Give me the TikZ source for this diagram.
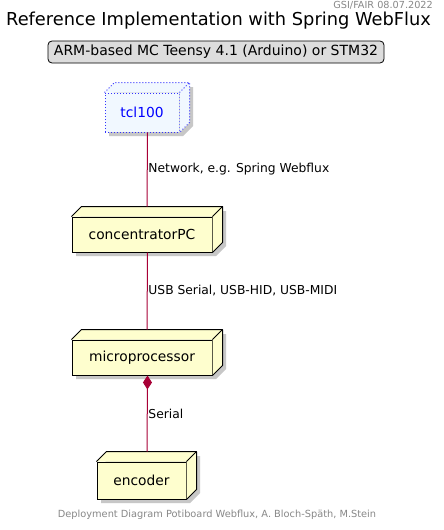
\documentclass[tikz,border=0pt]{standalone}
\usepackage{fontspec}
\setmainfont{DejaVu Sans}
\usetikzlibrary{arrows.meta}
\definecolor{edgec}{HTML}{A80036}
\definecolor{nodefill}{HTML}{FEFECE}
\definecolor{tclfill}{HTML}{F1F8FF}
\definecolor{tclline}{HTML}{3333FF}
\definecolor{legfill}{HTML}{DDDDDD}
\definecolor{greytext}{HTML}{888888}
\tikzset{
  frontface/.style={draw=black, line width=1pt, fill=nodefill, inner sep=0pt,
    font=\fontsize{13.8}{16}\selectfont},
  tclface/.style={draw=tclline, line width=1pt, dotted, fill=tclfill, inner sep=0pt,
    font=\fontsize{13.8}{16}\selectfont, text=blue},
  conn/.style={draw=edgec, line width=1pt},
  elabel/.style={font=\fontsize{12.3}{14}\selectfont, right, inner sep=1pt},
  shadowc/.style={fill=black!22},
}
% shadow: #1 cx, #2 cy, #3 w, #4 h
\newcommand\boxshadow[4]{%
  \fill[shadowc] ({#1-#3/2+4},{#2+#4/2+4}) -- ({#1+#3/2+4},{#2+#4/2+4})
     -- ({#1+#3/2+14},{#2+#4/2-6}) -- ({#1+#3/2+14},{#2-#4/2-6})
     -- ({#1-#3/2+14},{#2-#4/2-6}) -- ({#1-#3/2+4},{#2-#4/2+4}) -- cycle;
}
% #1 node name, #2 line style, #3 fill colour
\newcommand\boxdepth[3]{%
  \fill[#3] (#1.north west) -- ([shift={(10,-10)}]#1.north west) -- ([shift={(10,-10)}]#1.north east)
     -- ([shift={(10,-10)}]#1.south east) -- (#1.south east) -- (#1.north east) -- cycle;
  \draw[#2, line join=round] (#1.north west) -- ([shift={(10,-10)}]#1.north west) -- ([shift={(10,-10)}]#1.north east)
     -- ([shift={(10,-10)}]#1.south east) -- (#1.south east);
  \draw[#2] (#1.north east) -- ([shift={(10,-10)}]#1.north east);
}
\begin{document}
\begin{tikzpicture}[x=1pt,y=-1pt]
\useasboundingbox (0,0) rectangle (444,530);
\fill[white] (0,0) rectangle (444,530);
% header and title
\node[anchor=east, text=greytext, font=\fontsize{9.7}{11}\selectfont, inner sep=0pt] (hdr) at (433,5) {GSI/FAIR 08.07.2022};
\node[font=\fontsize{17.8}{20}\selectfont, inner sep=0pt] (title) at (218.5,21) {Reference Implementation with Spring WebFlux};
\node[draw=black, line width=0.8pt, fill=legfill, rounded corners=4pt, minimum width=336pt, minimum height=22pt,
  inner sep=0pt, font=\fontsize{14}{16}\selectfont] (legend) at (216,52) {ARM-based MC Teensy 4.1 (Arduino) or STM32};
% shadows
\boxshadow{142}{112.5}{74}{39}
\boxshadow{142}{234.5}{140}{35}
\boxshadow{142}{357.5}{140}{35}
\boxshadow{141.5}{480.5}{89}{37}
% nodes
\node[tclface, minimum width=74pt, minimum height=39pt] (tcl) at (142,112.5) {tcl100};
\boxdepth{tcl}{draw=tclline, line width=1pt, dotted}{tclfill}
\node[frontface, minimum width=140pt, minimum height=35pt] (cpc) at (142,234.5) {concentratorPC};
\boxdepth{cpc}{draw=black, line width=1pt}{nodefill}
\node[frontface, minimum width=140pt, minimum height=35pt] (mcu) at (142,357.5) {microprocessor};
\boxdepth{mcu}{draw=black, line width=1pt}{nodefill}
\node[frontface, minimum width=89pt, minimum height=37pt] (enc) at (141.5,480.5) {encoder};
\boxdepth{enc}{draw=black, line width=1pt}{nodefill}
% connector end points
\coordinate (e1a) at ([xshift=5.5pt]tcl.south);
\coordinate (e1b) at ([shift={(5,-10)}]cpc.north);
\coordinate (e2a) at ([xshift=5.5pt]cpc.south);
\coordinate (e2b) at ([shift={(5,-10)}]mcu.north);
\coordinate (e3a) at ([xshift=5.5pt]mcu.south);
\coordinate (e3b) at ([shift={(5.5,-10)}]enc.north);
% connectors
\draw[conn] (e1a) -- (e1b);
\draw[conn] (e2a) -- (e2b);
\draw[conn, {Diamond[length=14pt,width=9pt,fill=edgec]}-] (e3a) -- (e3b);
% connector labels
\path (e1a) -- (e1b) node[midway, elabel] (l1) {Network, e.g. Spring Webflux};
\path (e2a) -- (e2b) node[midway, elabel] (l2) {USB Serial, USB-HID, USB-MIDI};
\path (e3a) -- (e3b) node[midway, elabel] (l3) {Serial};
% footer
\node[text=greytext, font=\fontsize{9.8}{11}\selectfont, inner sep=0pt] (ftr) at (217,515) {Deployment Diagram Potiboard Webflux, A. Bloch-Späth, M.Stein};
\end{tikzpicture}
\end{document}
